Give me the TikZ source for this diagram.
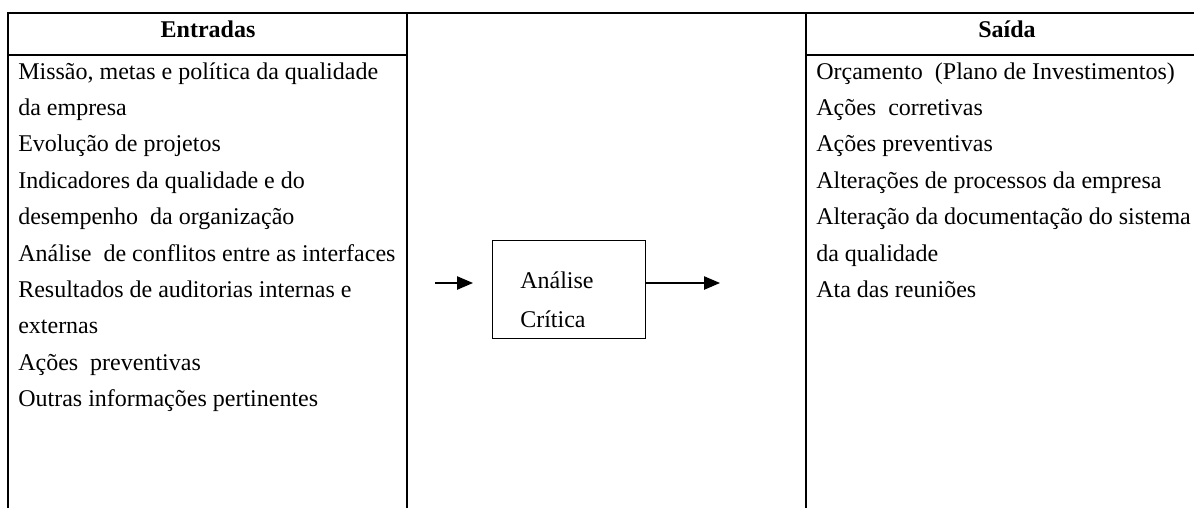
\documentclass[tikz,border=0pt]{standalone}
\usepackage{fontspec}
\setmainfont{Liberation Serif}
\usetikzlibrary{arrows.meta}
\begin{document}
\begin{tikzpicture}[x=0.75pt, y=-0.75pt,
    rule/.style={line width=1.5pt},
    item/.style={anchor=base west, inner sep=0pt, font=\fontsize{18}{21}\selectfont},
    head/.style={anchor=base, inner sep=0pt, font=\fontsize{18}{21}\selectfont\bfseries},
    flow/.style={line width=1pt, -{Triangle[length=12pt, width=10pt]}}]
    \useasboundingbox (0,0) rectangle (1194,508);
    % table frame
    \draw[rule] (8,508) -- (8,13) -- (1194,13);
    \draw[rule] (407,13) -- (407,508);
    \draw[rule] (806,13) -- (806,508);
    \draw[rule] (8,55) -- (407,55);
    \draw[rule] (806,55) -- (1194,55);
    \node[head] (entradas) at (208,37) {Entradas};
    \node[head] (saida) at (1007,37) {Saída};
    % inputs
    \foreach \txt [count=\i] in {{Missão, metas e política da qualidade}, da empresa,
        Evolução de projetos, Indicadores da qualidade e do,
        desempenho\ \ da organização, Análise\ \ de conflitos entre as interfaces,
        Resultados de auditorias internas e, externas,
        Ações\ \ preventivas, Outras informações pertinentes}
        \node[item] (ent\i) at (18,{42.6+36.4*\i}) {\txt};
    % outputs
    \foreach \txt [count=\i] in {Orçamento\ \ (Plano de Investimentos), Ações\ \ corretivas,
        Ações preventivas, Alterações de processos da empresa,
        Alteração da documentação do sistema, da qualidade, Ata das reuniões}
        \node[item] (sai\i) at (816,{42.6+36.4*\i}) {\txt};
    % process box
    \node[draw, line width=0.75pt, minimum width=153*0.75pt, minimum height=98*0.75pt,
        inner sep=0pt] (analise) at (568.5,289) {};
    \node[item] (lbl1) at (520,288) {Análise};
    \node[item] (lbl2) at (520,327) {Crítica};
    \coordinate (entra) at (435,283);
    \coordinate (entrafim) at (473,283);
    \coordinate (fim) at (720,283);
    \draw[flow] (entra) -- (entrafim);
    \draw[flow] (analise.east |- fim) -- (fim);
\end{tikzpicture}
\end{document}
